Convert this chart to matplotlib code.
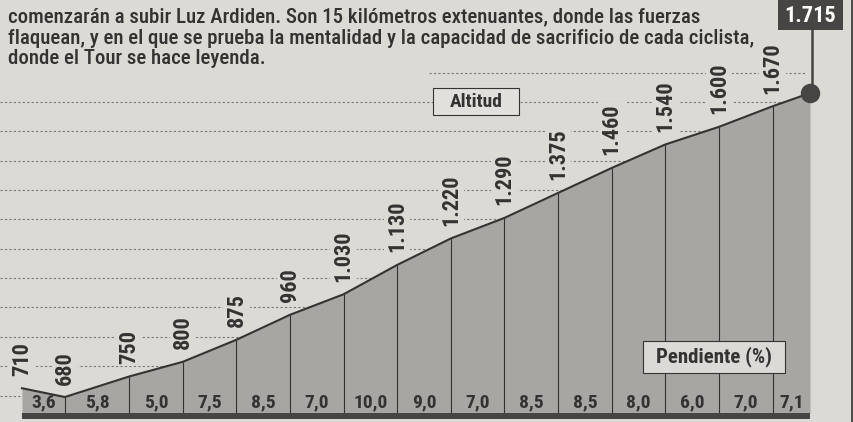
import numpy as np
import matplotlib
matplotlib.use("Agg")
import matplotlib.pyplot as plt
from matplotlib import font_manager
from matplotlib.patches import Rectangle

# climb profile (km per segment, altitude at each point, gradient per segment)
segment_km = [0.8, 1.2, 1.0, 1.0, 1.0, 1.0, 1.0, 1.0, 1.0, 1.0, 1.0, 1.0, 1.0, 1.0, 0.7]
altitudes = [710, 680, 750, 800, 875, 960, 1030, 1130, 1220, 1290, 1375, 1460, 1540, 1600, 1670, 1715]
gradients = [3.6, 5.8, 5.0, 7.5, 8.5, 7.0, 10.0, 9.0, 7.0, 8.5, 8.5, 8.0, 6.0, 7.0, 7.1]
grid_levels = [685, 785, 885, 985, 1085, 1185, 1285, 1385, 1485, 1585, 1685, 1785]

intro_lines = [
    "comenzarán a subir Luz Ardiden. Son 15 kilómetros extenuantes, donde las fuerzas",
    "flaquean, y en el que se prueba la mentalidad y la capacidad de sacrificio de cada ciclista,",
    "donde el Tour se hace leyenda.",
]

PAPER = "#dcdad5"
FILL = "#a8a6a2"
INK = "#353331"
DARK = "#474543"

# pick a condensed grotesque that has a real bold
bold_fams = {f.name for f in font_manager.fontManager.ttflist if f.weight in (700, "bold")}
FAMILY = "DejaVu Sans"
for cand in ["Roboto Condensed", "PT Sans Narrow", "Liberation Sans Narrow",
             "Open Sans Condensed", "Asap Condensed", "Archivo Narrow"]:
    if cand in bold_fams:
        FAMILY = cand
        break
FONT = dict(family=[FAMILY, "DejaVu Sans"])

km = np.concatenate([[0], np.cumsum(segment_km)])
alt = np.array(altitudes)
base = 625

W, H = 854, 422
fig = plt.figure(figsize=(W / 100, H / 100), dpi=100, facecolor=PAPER)
ax = fig.add_axes([0, 0, 1, 1])
ax.set_facecolor(PAPER)
ax.set_xlim(-0.41, 15.52)
ax.set_ylim(595, 2032)
ax.axis("off")


def fx(px):
    return px / W


def fy(py):
    return 1 - py / H


# dotted guide lines
for i, lev in enumerate(grid_levels):
    x0 = 7.6 if i == len(grid_levels) - 1 else -0.41
    ax.hlines(lev, x0, km[-1] - 0.1, colors="#7a7772", linestyles=(0, (2, 2)), lw=0.8, zorder=1)

# profile
ax.fill_between(km, alt, base, color=FILL, lw=0, zorder=2)
ax.plot(km, alt, color=INK, lw=1.5, zorder=4)
ax.vlines(km[1:-1], base, alt[1:-1], colors=INK, lw=0.8, zorder=3)
ax.fill_between([km[0], km[-1]], 605, base, color=DARK, lw=0, zorder=4)

# gradient labels
for i, g in enumerate(gradients):
    ax.text((km[i] + km[i + 1]) / 2, 663, f"{g:.1f}".replace(".", ","),
            ha="center", va="center", fontsize=14, fontweight="bold", color=INK, zorder=5, **FONT)

# altitude labels
for k, a in zip(km[:-1], alt[:-1]):
    ax.annotate(f"{a:,}".replace(",", "."), (k, a), xytext=(0, 9), textcoords="offset points",
                rotation=90, ha="center", va="bottom", fontsize=16, fontweight="bold", color=INK,
                zorder=5, bbox=dict(boxstyle="square,pad=0.1", fc=PAPER, ec="none"), **FONT)

# summit marker
top_py = 30
ax.plot(km[-1], alt[-1], "o", ms=13, color=DARK, zorder=6)
fig.add_artist(plt.Line2D([fx(812), fx(812)], [fy(top_py), fy(88)], color=DARK, lw=1.8))
fig.add_artist(Rectangle((fx(778), fy(top_py)), fx(65), 32 / H, fc=DARK, ec="none"))
fig.text(fx(810), fy(16), f"{altitudes[-1]:,}".replace(",", "."), ha="center", va="center",
         fontsize=16, fontweight="bold", color="white", **FONT)

# legend boxes
fig.add_artist(Rectangle((fx(433), fy(115)), fx(86), 27 / H, fc="#e2e0dc", ec=INK, lw=0.8, zorder=5))
fig.text(fx(476), fy(102), "Altitud", ha="center", va="center", fontsize=14,
         fontweight="bold", color=INK, zorder=6, **FONT)
fig.add_artist(Rectangle((fx(643), fy(373)), fx(142), 32 / H, fc="#dcdad6", ec=INK, lw=0.8, zorder=5))
fig.text(fx(714), fy(357), "Pendiente (%)", ha="center", va="center", fontsize=15,
         fontweight="bold", color=INK, zorder=6, **FONT)

# intro text
for j, line in enumerate(intro_lines):
    fig.text(fx(8), fy(17 + 21 * j), line, ha="left", va="center", fontsize=15,
             fontweight="medium", color=INK, **FONT)

# right frame line
fig.add_artist(plt.Line2D([fx(852), fx(852)], [0, 1], color=INK, lw=1.2))

fig.savefig("out.png", dpi=100, facecolor=PAPER)
